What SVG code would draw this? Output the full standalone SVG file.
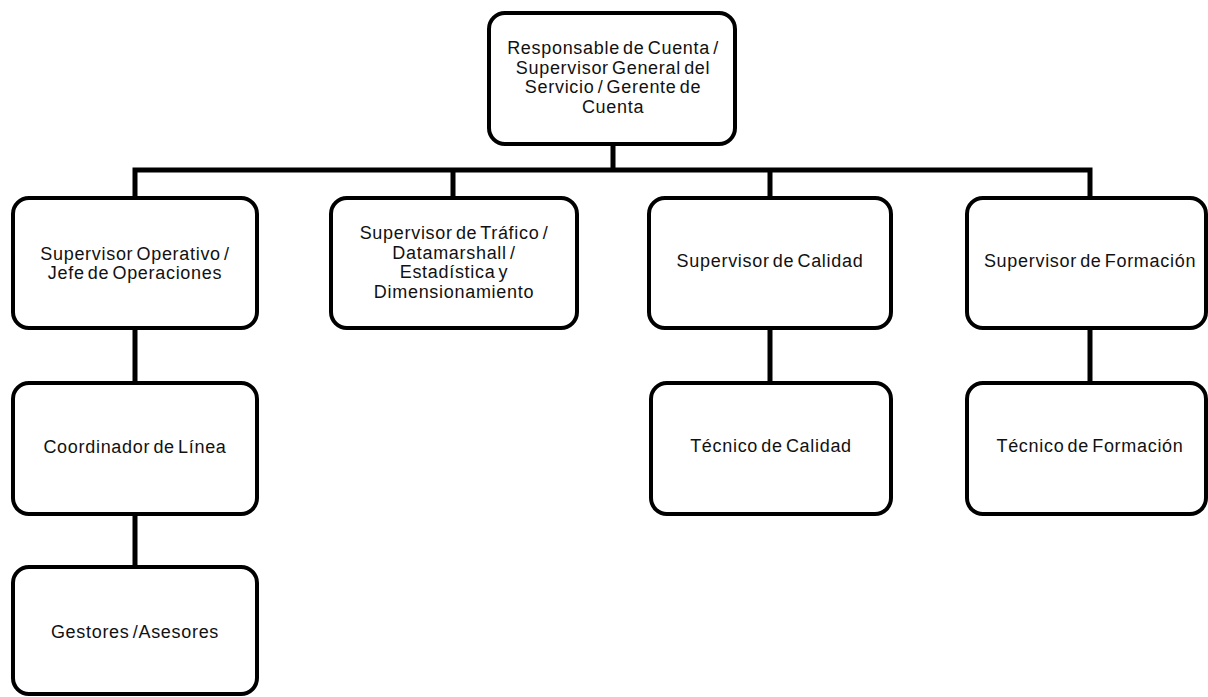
<svg xmlns="http://www.w3.org/2000/svg" width="1208" height="697" viewBox="0 0 1208 697">
<style>
.box{fill:#fff;stroke:#000;stroke-width:4}
.lbl{font-family:"Liberation Sans",Arial,sans-serif;font-size:18px;fill:#111;text-anchor:middle;letter-spacing:0.7px;word-spacing:-2.5px}
.con{fill:none;stroke:#000;stroke-width:5}
</style>
<rect width="1208" height="697" fill="#fff"/>
<g id="connectors">
<path class="con" d="M613 144V170M135 198V170H1090V198M453 170V198M770 170V198"/>
<path class="con" d="M135 328V383M135 514V567M770 328V383M1090 328V383"/>
</g>
<g id="n0"><rect class="box" x="489" y="13" width="246" height="131" rx="16"/>
<text class="lbl"><tspan x="613" y="54">Responsable de Cuenta /</tspan><tspan x="613" y="73.5">Supervisor General del</tspan><tspan x="613" y="93">Servicio / Gerente de</tspan><tspan x="613" y="112.5">Cuenta</tspan></text></g>
<g id="n1"><rect class="box" x="13" y="198" width="244" height="130" rx="16"/>
<text class="lbl"><tspan x="135" y="260">Supervisor Operativo /</tspan><tspan x="135" y="279">Jefe de Operaciones</tspan></text></g>
<g id="n2"><rect class="box" x="331" y="198" width="246" height="130" rx="16"/>
<text class="lbl"><tspan x="454" y="239">Supervisor de Tráfico /</tspan><tspan x="454" y="258.5">Datamarshall /</tspan><tspan x="454" y="278">Estadística y</tspan><tspan x="454" y="297.5">Dimensionamiento</tspan></text></g>
<g id="n3"><rect class="box" x="649" y="198" width="242" height="130" rx="16"/>
<text class="lbl" x="770" y="267">Supervisor de Calidad</text></g>
<g id="n4"><rect class="box" x="967" y="198" width="239" height="130" rx="16"/>
<text class="lbl" x="1090" y="267">Supervisor de Formación</text></g>
<g id="n5"><rect class="box" x="13" y="383" width="244" height="131" rx="16"/>
<text class="lbl" x="135" y="453">Coordinador de Línea</text></g>
<g id="n6"><rect class="box" x="651" y="383" width="240" height="131" rx="16"/>
<text class="lbl" x="771" y="452">Técnico de Calidad</text></g>
<g id="n7"><rect class="box" x="967" y="383" width="239" height="131" rx="16"/>
<text class="lbl" x="1090" y="452">Técnico de Formación</text></g>
<g id="n8"><rect class="box" x="13" y="567" width="244" height="127" rx="16"/>
<text class="lbl" x="135" y="638">Gestores /Asesores</text></g>
</svg>
